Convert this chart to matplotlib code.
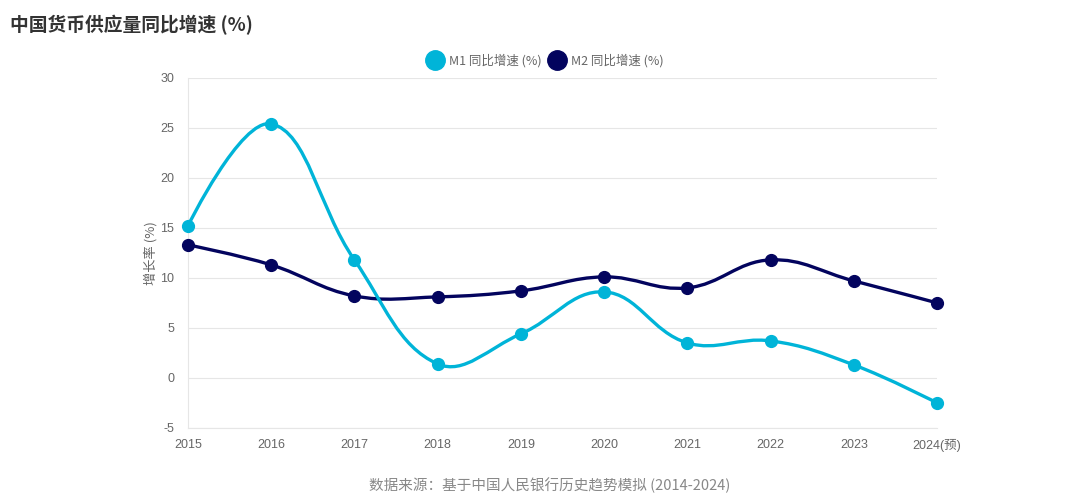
import numpy as np
import matplotlib
matplotlib.use("Agg")
import matplotlib.pyplot as plt
from matplotlib.path import Path
from matplotlib.patches import PathPatch
from matplotlib.lines import Line2D

plt.rcParams["font.family"] = ["Noto Sans CJK SC", "DejaVu Sans"]
plt.rcParams["axes.unicode_minus"] = False

years = ["2015", "2016", "2017", "2018", "2019", "2020", "2021", "2022", "2023", "2024(预)"]
m1_growth = [15.2, 25.4, 11.8, 1.4, 4.4, 8.6, 3.5, 3.7, 1.3, -2.5]
m2_growth = [13.3, 11.3, 8.2, 8.1, 8.7, 10.1, 9.0, 11.8, 9.7, 7.5]

M1_COLOR = "#00b4d8"
M2_COLOR = "#03045e"
GRID = "#e6e6e6"
TEXT = "#666666"


def spline_path(xs, ys, sx, sy, tension=0.4):
    """Cubic bezier through the points, like Chart.js splineCurve."""
    pts = np.column_stack([xs, ys]).astype(float)
    scale = np.array([sx, sy])
    n = len(pts)
    ctrl_prev = pts.copy()
    ctrl_next = pts.copy()
    for i in range(1, n - 1):
        p0, p1, p2 = pts[i - 1], pts[i], pts[i + 1]
        d01 = np.hypot(*((p1 - p0) * scale))
        d12 = np.hypot(*((p2 - p1) * scale))
        s01 = d01 / (d01 + d12)
        s12 = d12 / (d01 + d12)
        ctrl_prev[i] = p1 - tension * s01 * (p2 - p0)
        ctrl_next[i] = p1 + tension * s12 * (p2 - p0)
    verts = [pts[0]]
    codes = [Path.MOVETO]
    for i in range(n - 1):
        verts += [ctrl_next[i], ctrl_prev[i + 1], pts[i + 1]]
        codes += [Path.CURVE4] * 3
    return Path(verts, codes)


fig = plt.figure(figsize=(10.8, 5.04), dpi=100)
ax = fig.add_axes([0.174, 0.151, 0.6936, 0.6945])

x = np.arange(len(years))
ax.set_xlim(0, len(years) - 1)
ax.set_ylim(-5, 30)

sx = 749 / 9
sy = 10.03
for vals, color in [(m2_growth, M2_COLOR), (m1_growth, M1_COLOR)]:
    path = spline_path(x, vals, sx, sy)
    ax.add_patch(PathPatch(path, facecolor="none", edgecolor=color, lw=2.4,
                           capstyle="round", joinstyle="round", zorder=3))
    ax.plot(x, vals, "o", color=color, markersize=8.5, zorder=4, clip_on=False)

ax.set_yticks(range(-5, 31, 5))
ax.set_xticks(x)
ax.set_xticklabels(years)
ax.grid(axis="y", color=GRID, lw=0.8)
ax.set_axisbelow(True)
for side in ["top", "right"]:
    ax.spines[side].set_visible(False)
for side in ["left", "bottom"]:
    ax.spines[side].set_color(GRID)
    ax.spines[side].set_linewidth(0.8)
ax.tick_params(axis="both", length=0, labelsize=9, colors=TEXT, pad=8)
ax.tick_params(axis="y", pad=10)
for lab in ax.get_xticklabels() + ax.get_yticklabels():
    lab.set_family(["Liberation Sans", "Noto Sans CJK SC"])

ax.set_ylabel("增长率 (%)", fontsize=9.5, color=TEXT, labelpad=2)

handles = [
    Line2D([], [], marker="o", ls="none", color=M1_COLOR, markersize=14),
    Line2D([], [], marker="o", ls="none", color=M2_COLOR, markersize=14),
]
fig.legend(handles, ["M1 同比增速 (%)", "M2 同比增速 (%)"], loc="center",
           bbox_to_anchor=(0.504, 0.879), ncol=2, frameon=False, fontsize=9,
           labelcolor=TEXT, handletextpad=0.3, columnspacing=0.5,
           handlelength=1.6)

fig.text(0.009, 0.95, "中国货币供应量同比增速 (%)", fontsize=13.5,
         fontweight="bold", color="#333333", va="center", ha="left")
fig.text(0.509, 0.037, "数据来源：基于中国人民银行历史趋势模拟 (2014-2024)",
         fontsize=10.5, color="#888888", style="italic", ha="center", va="center")

fig.savefig("out.png", dpi=100, facecolor="white")
